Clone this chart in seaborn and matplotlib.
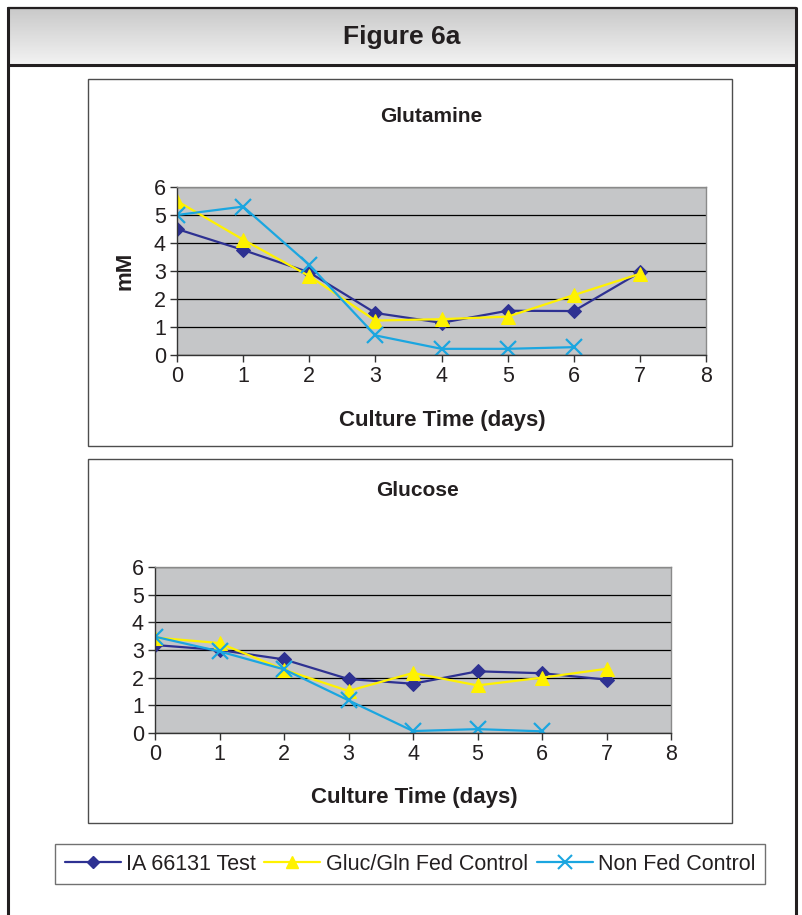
import numpy as np
import pandas as pd
import matplotlib
matplotlib.use("Agg")
import matplotlib.pyplot as plt
from matplotlib.patches import Rectangle
from matplotlib.lines import Line2D
import seaborn as sns

# ---- data -------------------------------------------------------------
days = [0, 1, 2, 3, 4, 5, 6, 7]
days_nonfed = [0, 1, 2, 3, 4, 5, 6]

gln_test = [4.5, 3.75, 2.95, 1.5, 1.15, 1.58, 1.57, 2.95]
gln_fed = [5.5, 4.12, 2.82, 1.23, 1.28, 1.37, 2.14, 2.9]
gln_nonfed = [5.0, 5.3, 3.22, 0.7, 0.22, 0.22, 0.28]

glc_test = [3.18, 3.0, 2.66, 1.95, 1.78, 2.23, 2.16, 1.93]
glc_fed = [3.45, 3.25, 2.29, 1.52, 2.17, 1.72, 2.0, 2.32]
glc_nonfed = [3.48, 2.95, 2.3, 1.18, 0.07, 0.14, 0.06]

series_names = ["IA 66131 Test", "Gluc/Gln Fed Control", "Non Fed Control"]
series_colors = ["#2E3192", "#FFF200", "#1BA6E0"]
series_markers = ["D", "^", "x"]
series_msize = [7, 10, 11]

W, H = 802, 915
sns.set_style("white")
plt.rcParams["font.family"] = ["Liberation Sans", "DejaVu Sans"]

fig = plt.figure(figsize=(W / 100, H / 100), dpi=100)


def fx(px):
    return px / W


def fy(py):
    return 1 - py / H


def frect(x0, y0, x1, y1):
    return [fx(x0), fy(y1), fx(x1) - fx(x0), fy(y0) - fy(y1)]


# ---- header band with gradient ---------------------------------------
hdr = fig.add_axes(frect(8, 8, 796, 65))
grad = np.linspace(0, 1, 100).reshape(-1, 1)
hdr.imshow(grad, aspect="auto", cmap=matplotlib.colors.LinearSegmentedColormap.from_list(
    "hdr", ["#c9c9c9", "#f3f3f3"]), extent=[0, 1, 0, 1], origin="upper")
hdr.set_xticks([])
hdr.set_yticks([])
for s in hdr.spines.values():
    s.set_visible(False)
fig.text(fx(402), fy(37), "Figure 6a", ha="center", va="center", fontsize=19,
         fontweight="bold", color="#231f20",
         family=["Liberation Sans Narrow", "Liberation Sans", "DejaVu Sans"])

# outer frame lines
dark = "#231f20"
fig.add_artist(Line2D([fx(8), fx(796)], [fy(8), fy(8)], color=dark, lw=1.6))
fig.add_artist(Line2D([fx(8), fx(796)], [fy(65), fy(65)], color=dark, lw=2.2))
fig.add_artist(Line2D([fx(8), fx(8)], [fy(8), fy(915)], color=dark, lw=2.2))
fig.add_artist(Line2D([fx(796), fx(796)], [fy(8), fy(915)], color=dark, lw=2.2))

# chart panels
for (x0, y0, x1, y1) in [(88, 79, 732, 446), (88, 459, 732, 823)]:
    fig.add_artist(Rectangle((fx(x0), fy(y1)), fx(x1) - fx(x0), fy(y0) - fy(y1),
                             transform=fig.transFigure, fill=False,
                             edgecolor="#4d4d4d", lw=1.0))

LBL = 15.5


def draw_panel(ax, title, vals, title_xy, xlabel_xy, ylabel=None, ylabel_x=None):
    frames = []
    for name, v in zip(series_names, vals):
        d = days if len(v) == len(days) else days_nonfed
        frames.append(pd.DataFrame({"day": d, "conc": v, "series": name}))
    df = pd.concat(frames, ignore_index=True)
    ax.set_facecolor("#c5c6c8")
    for name, c, m, ms in zip(series_names, series_colors, series_markers, series_msize):
        sub = df[df["series"] == name]
        kw = dict(marker=m, markersize=ms, color=c, linewidth=1.6,
                  markeredgecolor=c, markerfacecolor=c)
        if m == "x":
            kw.update(markeredgewidth=1.6)
        sns.lineplot(data=sub, x="day", y="conc", ax=ax, legend=False, **kw)
    ax.set_xlim(0, 8)
    ax.set_ylim(0, 6)
    ax.set_xticks(range(0, 9))
    ax.set_yticks(range(0, 7))
    ax.yaxis.grid(True, color="black", lw=0.9)
    ax.set_axisbelow(True)
    ax.tick_params(axis="both", labelsize=LBL, length=5, width=1,
                   color="#333333", direction="out", pad=3, labelcolor="#231f20")
    ax.tick_params(bottom=True, left=True)
    for side in ["top", "right"]:
        ax.spines[side].set_color("#8a8a8a")
        ax.spines[side].set_linewidth(1.0)
    for side in ["left", "bottom"]:
        ax.spines[side].set_color("#333333")
        ax.spines[side].set_linewidth(1.0)
    ax.set_xlabel("")
    ax.set_ylabel("")
    pos = ax.get_position()
    fig.text(fx(title_xy[0]), fy(title_xy[1]), title, ha="center", va="center",
             fontsize=15, fontweight="bold", color="#231f20")
    fig.text(fx(xlabel_xy[0]), fy(xlabel_xy[1]), "Culture Time (days)", ha="center",
             va="center", fontsize=16, fontweight="bold", color="#231f20")
    if ylabel:
        fig.text(fx(ylabel_x), pos.y0 + pos.height / 2, ylabel, ha="center",
                 va="center", rotation=90, fontsize=16, fontweight="bold",
                 color="#231f20")


ax1 = fig.add_axes(frect(177, 187, 706, 355))
draw_panel(ax1, "Glutamine", [gln_test, gln_fed, gln_nonfed], (431, 117), (442, 420),
           "mM", 125)

ax2 = fig.add_axes(frect(155, 567, 671, 733))
draw_panel(ax2, "Glucose", [glc_test, glc_fed, glc_nonfed], (418, 490), (414, 797))

# ---- legend -----------------------------------------------------------
handles = []
for name, c, m, ms in zip(series_names, series_colors, series_markers, series_msize):
    kw = dict(marker=m, markersize=ms * 0.9, color=c, lw=1.6,
              markeredgecolor=c, markerfacecolor=c)
    if m == "x":
        kw.update(markeredgewidth=1.5)
    handles.append(Line2D([0], [0], label=name, **kw))
leg = fig.legend(handles=handles, loc="center", bbox_to_anchor=(fx(410), fy(864)),
                 ncol=3, frameon=True, fancybox=False, fontsize=15.5,
                 handlelength=2.6, handletextpad=0.25, columnspacing=0.4,
                 borderpad=0.45, borderaxespad=0)
leg.get_frame().set_edgecolor("#4d4d4d")
leg.get_frame().set_linewidth(1.0)
for t in leg.get_texts():
    t.set_color("#231f20")

fig.savefig("out.png", dpi=100)
